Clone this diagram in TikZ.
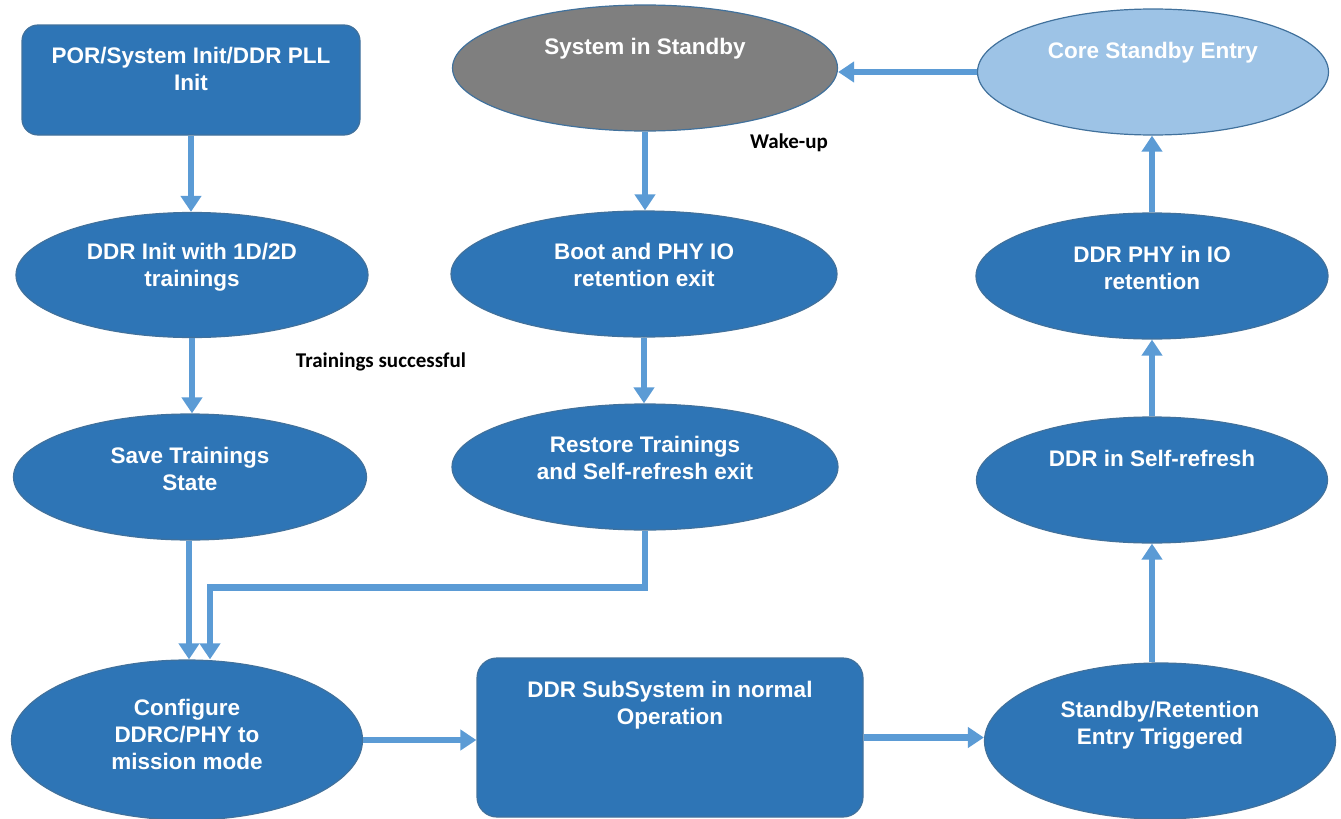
\documentclass[tikz,border=0pt]{standalone}
\usepackage{fontspec}
\setmainfont{Liberation Sans}
\newfontfamily\calibrifont{Carlito}
\usetikzlibrary{shapes.geometric,arrows.meta}
\definecolor{stateblue}{HTML}{2E75B6}
\definecolor{stateedge}{HTML}{41719C}
\definecolor{flowblue}{HTML}{5B9BD5}
\definecolor{standbygray}{HTML}{7F7F7F}
\definecolor{coreblue}{HTML}{9DC3E6}

\begin{document}
\begin{tikzpicture}[
    x=1pt, y=-1pt,
    every node/.style={font=\fontsize{22.5}{27}\selectfont\bfseries, text=white},
    state/.style={draw=stateedge, line width=1.2pt, fill=stateblue, inner sep=0pt},
    ellstate/.style={state, ellipse},
    boxstate/.style={state, rectangle, rounded corners=16pt},
    caption/.style={align=center},
    flow/.style={draw=flowblue, line width=6.5pt, -{Triangle[width=20pt,length=16pt]}},
    note/.style={text=black, font=\calibrifont\fontsize{21}{25}\selectfont\bfseries}
  ]
\useasboundingbox (0,0) rectangle (1341,819);

% Left column: cold boot path
\node[boxstate, minimum width=338, minimum height=110,
      label={[caption,yshift=11pt]center:POR/System Init/DDR PLL\\Init}] (por) at (191,80) {};
\node[ellstate, minimum width=352, minimum height=125,
      label={[caption,yshift=8pt]center:DDR Init with 1D/2D\\trainings}] (ddrinit) at (192,275) {};
\node[ellstate, minimum width=353, minimum height=126,
      label={[caption,yshift=8pt]center:Save Trainings\\State}] (save) at (190,477) {};
\node[ellstate, minimum width=351, minimum height=160,
      label={[caption,yshift=6pt]center:Configure\\DDRC/PHY to\\mission mode}] (config) at (187,740) {};

% Middle column: wake-up path
\node[ellstate, fill=standbygray, minimum width=385, minimum height=126,
      label={[caption,yshift=19pt]center:System in Standby}] (standby) at (645,68) {};
\node[ellstate, minimum width=386, minimum height=126,
      label={[caption,yshift=9pt]center:Boot and PHY IO\\retention exit}] (boot) at (644,274) {};
\node[ellstate, minimum width=386, minimum height=126,
      label={[caption,yshift=9pt]center:Restore Trainings\\and Self-refresh exit}] (restore) at (645,467) {};
\node[boxstate, rounded corners=20pt, minimum width=386, minimum height=159,
      label={[caption,yshift=32pt]center:DDR SubSystem in normal\\Operation}] (ddrss) at (670,737.5) {};

% Right column: standby entry
\node[ellstate, fill=coreblue, minimum width=351, minimum height=126,
      label={[caption,yshift=19pt]center:Core Standby Entry}] (core) at (1153,72) {};
\node[ellstate, minimum width=352, minimum height=126,
      label={[caption,yshift=8pt]center:DDR PHY in IO\\retention}] (phy) at (1152,276) {};
\node[ellstate, minimum width=351, minimum height=126,
      label={[caption,yshift=22pt]center:DDR in Self-refresh}] (selfref) at (1152,480) {};
\node[ellstate, minimum width=351, minimum height=156,
      label={[caption,yshift=16pt]center:Standby/Retention\\Entry Triggered}] (stret) at (1160,741) {};

% Transition notes
\node[note] (wake) at (789,143) {Wake-up};
\node[note] (trainok) at (381,362) {Trainings successful};

% Transitions
\draw[flow] (por.south) -- (por.south |- ddrinit.north);
\draw[flow] (ddrinit.south) -- (ddrinit.south |- save.north);
\draw[flow] ([xshift=-1pt]save.south) -- ([xshift=-1pt]save.south |- config.north);
\draw[flow] (standby.south) -- (standby.south |- boot.north);
\draw[flow] (boot.south) -- (boot.south |- restore.north);
\draw[flow] (restore.south) -- ++(0,57) -| ([xshift=23pt]config.north);
\draw[flow] (config.east) -- (config.east -| ddrss.west);
\draw[flow] (ddrss.east) -- (ddrss.east -| stret.west);
\draw[flow] (stret.north -| selfref.south) -- (selfref.south);
\draw[flow] (selfref.north) -- (selfref.north |- phy.south);
\draw[flow] (phy.north) -- (phy.north |- core.south);
\draw[flow] (core.west) -- (core.west -| standby.east);

\end{tikzpicture}
\end{document}
